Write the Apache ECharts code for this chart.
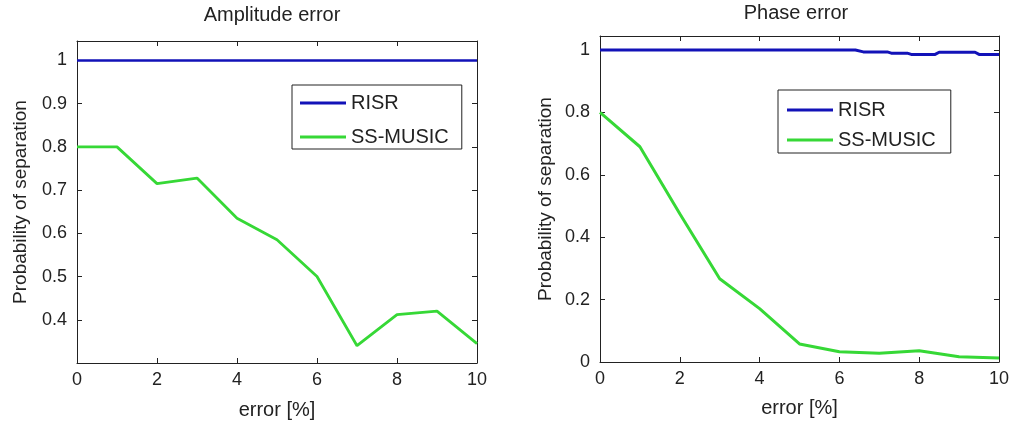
<!DOCTYPE html>
<html>
<head>
<meta charset="utf-8">
<title>Probability of separation</title>
<script src="https://cdn.jsdelivr.net/npm/echarts@6/dist/echarts.min.js"></script>
<style>
  html, body { margin: 0; padding: 0; background: #ffffff; }
  #chart { width: 1012px; height: 425px; }
</style>
</head>
<body>
<div id="chart"></div>
<script>
// Error levels in percent (x axis of both panels)
const errorPct = [0, 1, 2, 3, 4, 5, 6, 7, 8, 9, 10];

// Amplitude error panel
const ampRisr  = [1, 1, 1, 1, 1, 1, 1, 1, 1, 1, 1];
const ampMusic = [0.80, 0.80, 0.715, 0.728, 0.635, 0.585, 0.50, 0.34, 0.412, 0.42, 0.345];

// Phase error panel
const phaseRisrX = [0, 6.4, 6.6, 7.2, 7.3, 7.7, 7.8, 8.4, 8.5, 9.4, 9.5, 10];
const phaseRisrY = [1, 1, 0.994, 0.994, 0.99, 0.99, 0.986, 0.986, 0.993, 0.993, 0.986, 0.986];
const phaseMusic = [0.80, 0.69, 0.475, 0.267, 0.171, 0.058, 0.033, 0.028, 0.036, 0.017, 0.013];

// Axis ticks
const xTicks = { min: 0, max: 10, interval: 2 };
const ampYTicks = { min: 0.3, max: 1.045, interval: 0.1 };
const phaseYTicks = { min: 0, max: 1.045, interval: 0.2 };

const titles = ['Amplitude error', 'Phase error'];
const seriesNames = ['RISR', 'SS-MUSIC'];
const xName = 'error [%]';
const yName = 'Probability of separation';

const FONT = '"Liberation Sans", Arial, Helvetica, sans-serif';
const INK = '#222222';
const BLUE = '#1212b8';
const GREEN = '#36d836';

const pairs = (xs, ys) => xs.map((x, i) => [x, ys[i]]);

// Shared look of every axis: box frame with ticks pointing into the plot
const frameLine = { show: true, onZero: false, lineStyle: { color: INK, width: 1 } };
const frameTick = { show: true, inside: true, length: 5, lineStyle: { color: INK, width: 1 } };

function xAxes(gridIndex, nameGap) {
  return [
    {
      type: 'value', gridIndex, position: 'bottom',
      min: xTicks.min, max: xTicks.max, interval: xTicks.interval,
      name: xName, nameLocation: 'middle', nameGap,
      nameTextStyle: { fontFamily: FONT, fontSize: 20, color: INK },
      axisLine: frameLine, axisTick: frameTick,
      axisLabel: { fontFamily: FONT, fontSize: 18, color: INK, margin: 8 },
      splitLine: { show: false }
    },
    {
      type: 'value', gridIndex, position: 'top',
      min: xTicks.min, max: xTicks.max, interval: xTicks.interval,
      axisLine: frameLine, axisTick: frameTick,
      axisLabel: { show: false },
      splitLine: { show: false }
    }
  ];
}

function yAxes(gridIndex, ticks, nameGap, showMin) {
  return [
    {
      type: 'value', gridIndex, position: 'left',
      min: ticks.min, max: ticks.max, interval: ticks.interval,
      name: yName, nameLocation: 'middle', nameGap,
      nameTextStyle: { fontFamily: FONT, fontSize: 19, color: INK },
      axisLine: frameLine, axisTick: frameTick,
      axisLabel: {
        fontFamily: FONT, fontSize: 18, color: INK, margin: 10,
        showMinLabel: showMin, showMaxLabel: false
      },
      splitLine: { show: false }
    },
    {
      type: 'value', gridIndex, position: 'right',
      min: ticks.min, max: ticks.max, interval: ticks.interval,
      axisLine: frameLine, axisTick: frameTick,
      axisLabel: { show: false },
      splitLine: { show: false }
    }
  ];
}

function legendBox(left, top, padding, itemGap) {
  return {
    orient: 'vertical', left, top, padding, itemGap,
    data: seriesNames,
    icon: 'rect',
    backgroundColor: '#ffffff',
    borderColor: INK, borderWidth: 1, borderRadius: 0,
    itemWidth: 46, itemHeight: 3,
    selectedMode: false,
    textStyle: { fontFamily: FONT, fontSize: 20, color: INK, lineHeight: 22 }
  };
}

const lineSeries = (name, xAxisIndex, yAxisIndex, data, color, width) => ({
  name, type: 'line', xAxisIndex, yAxisIndex, data,
  symbol: 'none', showSymbol: false, smooth: false, animation: false,
  lineStyle: { color, width }, itemStyle: { color },
  z: name === 'RISR' ? 3 : 2
});

const option = {
  backgroundColor: '#ffffff',
  animation: false,
  title: [
    { text: titles[0], left: 272, top: 5, textAlign: 'center', padding: 0,
      textStyle: { fontFamily: FONT, fontSize: 20, fontWeight: 'normal', color: INK } },
    { text: titles[1], left: 796, top: 3, textAlign: 'center', padding: 0,
      textStyle: { fontFamily: FONT, fontSize: 20, fontWeight: 'normal', color: INK } }
  ],
  legend: [
    legendBox(292, 85, [7, 13, 1, 8], 12),
    legendBox(778, 90, [9, 15, 2, 9], 8)
  ],
  grid: [
    { left: 77, top: 41, width: 400, height: 322, containLabel: false },
    { left: 600, top: 36, width: 400, height: 326, containLabel: false }
  ],
  xAxis: [...xAxes(0, 37), ...xAxes(1, 36)],
  yAxis: [...yAxes(0, ampYTicks, 47, false), ...yAxes(1, phaseYTicks, 45, true)],
  series: [
    lineSeries(seriesNames[0], 0, 0, pairs(errorPct, ampRisr), BLUE, 2.5),
    lineSeries(seriesNames[1], 0, 0, pairs(errorPct, ampMusic), GREEN, 2.8),
    lineSeries(seriesNames[0], 2, 2, pairs(phaseRisrX, phaseRisrY), BLUE, 3),
    lineSeries(seriesNames[1], 2, 2, pairs(errorPct, phaseMusic), GREEN, 3)
  ]
};

const chart = echarts.init(document.getElementById('chart'), null, { renderer: 'canvas' });
chart.setOption(option);
</script>
</body>
</html>
